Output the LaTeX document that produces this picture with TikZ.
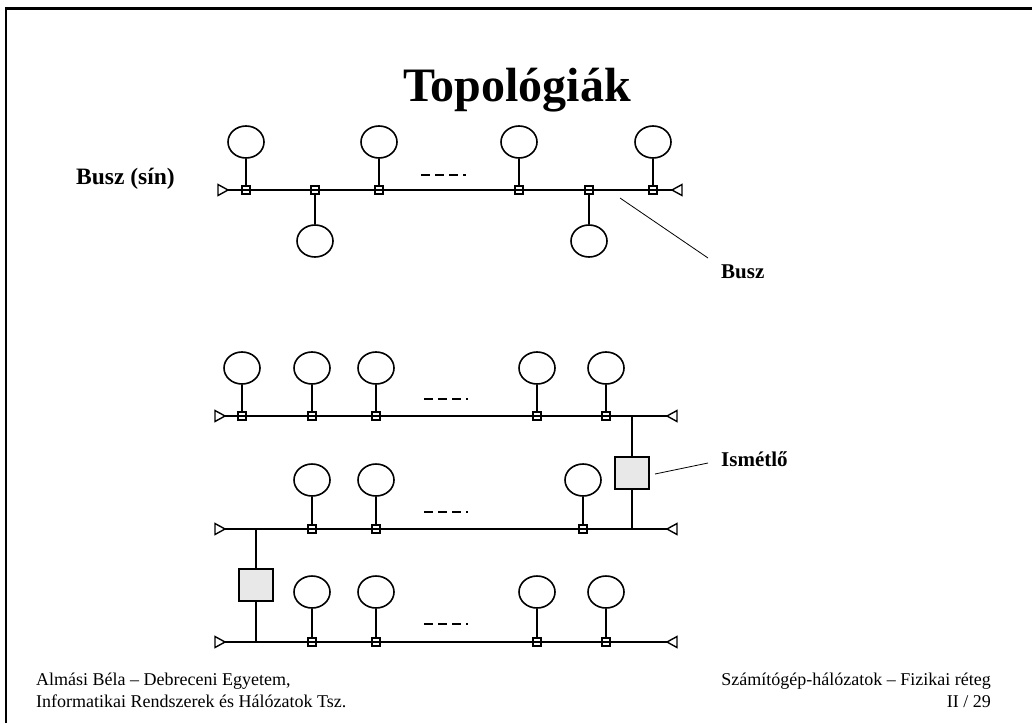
\documentclass[tikz,border=0pt]{standalone}
\usepackage{fontspec}
\setmainfont{Liberation Serif}
\usetikzlibrary{shapes.geometric}
\begin{document}
\begin{tikzpicture}[x=1pt,y=-1pt,
  station/.style={draw,ellipse,line width=1.6pt,minimum width=36pt,minimum height=32pt,inner sep=0pt},
  tap/.style={draw,rectangle,line width=1.2pt,minimum size=8pt,inner sep=0pt},
  repeater/.style={draw,rectangle,fill=black!9,line width=1.6pt,minimum width=34pt,minimum height=32pt,inner sep=0pt},
  bus/.style={line width=2.2pt},
  stem/.style={line width=1.6pt},
  term/.style={line width=1.4pt},
  more/.style={line width=1.7pt,dash pattern=on 9pt off 5pt},
  callout/.style={line width=0.8pt},
  lbl/.style={font=\bfseries\fontsize{21}{25}\selectfont,inner sep=0pt,anchor=base west},
  foot/.style={font=\fontsize{18}{22}\selectfont,inner sep=0pt}]
\useasboundingbox (0,0) rectangle (1032,723);
% frame
\draw[line width=2.6pt] (6,723) -- (6,8.5) -- (1032,8.5);

\node[font=\bfseries\fontsize{48}{56}\selectfont,inner sep=0pt,anchor=base] (title) at (517,101) {Topológiák};
\node[font=\bfseries\fontsize{23.5}{28}\selectfont,inner sep=0pt,anchor=base west] (lsin) at (76,184) {Busz (sín)};

% single bus
\coordinate (b0) at (228,190);
\coordinate (b1) at (672,190);
\draw[bus] (b0) -- (b1);
\draw[term] (b0) -- ++(-10,-5.5) -- ++(0,11) -- cycle;
\draw[term] (b1) -- ++(10,-5.5) -- ++(0,11) -- cycle;
\node[tap] (t1) at (246,190) {};
\node[tap] (t2) at (315,190) {};
\node[tap] (t3) at (379,190) {};
\node[tap] (t4) at (519,190) {};
\node[tap] (t5) at (589,190) {};
\node[tap] (t6) at (653,190) {};
\node[station] (s1) at (246,142) {};
\node[station] (s2) at (315,241) {};
\node[station] (s3) at (379,142) {};
\node[station] (s4) at (519,142) {};
\node[station] (s5) at (589,241) {};
\node[station] (s6) at (653,142) {};
\path[draw,stem] (s1) -- (t1);
\path[draw,stem] (s2) -- (t2);
\path[draw,stem] (s3) -- (t3);
\path[draw,stem] (s4) -- (t4);
\path[draw,stem] (s5) -- (t5);
\path[draw,stem] (s6) -- (t6);
\draw[more] (421,175) -- (466,175);

\coordinate (bp) at (620,198);
\coordinate (be) at (708,258);
\draw[callout] (bp) -- (be);
\node[lbl] (lbus) at (721,278) {Busz};

% three segments with repeaters
\coordinate (a0) at (225,416);
\coordinate (a1) at (667,416);
\coordinate (c0) at (225,529);
\coordinate (c1) at (667,529);
\coordinate (d0) at (225,642);
\coordinate (d1) at (667,642);
\draw[bus] (a0) -- (a1);
\draw[bus] (c0) -- (c1);
\draw[bus] (d0) -- (d1);
\draw[term] (a0) -- ++(-10,-5.5) -- ++(0,11) -- cycle;
\draw[term] (a1) -- ++(10,-5.5) -- ++(0,11) -- cycle;
\draw[term] (c0) -- ++(-10,-5.5) -- ++(0,11) -- cycle;
\draw[term] (c1) -- ++(10,-5.5) -- ++(0,11) -- cycle;
\draw[term] (d0) -- ++(-10,-5.5) -- ++(0,11) -- cycle;
\draw[term] (d1) -- ++(10,-5.5) -- ++(0,11) -- cycle;

\node[tap] (ta1) at (242,416) {};
\node[tap] (ta2) at (312,416) {};
\node[tap] (ta3) at (376,416) {};
\node[tap] (ta4) at (537,416) {};
\node[tap] (ta5) at (606,416) {};
\node[station] (sa1) at (242,368) {};
\node[station] (sa2) at (312,368) {};
\node[station] (sa3) at (376,368) {};
\node[station] (sa4) at (537,368) {};
\node[station] (sa5) at (606,368) {};
\path[draw,stem] (sa1) -- (ta1);
\path[draw,stem] (sa2) -- (ta2);
\path[draw,stem] (sa3) -- (ta3);
\path[draw,stem] (sa4) -- (ta4);
\path[draw,stem] (sa5) -- (ta5);
\draw[more] (424,399) -- (468,399);

\node[tap] (tc1) at (312,529) {};
\node[tap] (tc2) at (376,529) {};
\node[tap] (tc3) at (583,529) {};
\node[station] (sc1) at (312,480) {};
\node[station] (sc2) at (376,480) {};
\node[station] (sc3) at (583,480) {};
\path[draw,stem] (sc1) -- (tc1);
\path[draw,stem] (sc2) -- (tc2);
\path[draw,stem] (sc3) -- (tc3);
\draw[more] (424,512) -- (468,512);

\node[tap] (td1) at (312,642) {};
\node[tap] (td2) at (376,642) {};
\node[tap] (td3) at (537,642) {};
\node[tap] (td4) at (606,642) {};
\node[station] (sd1) at (312,592) {};
\node[station] (sd2) at (376,592) {};
\node[station] (sd3) at (537,592) {};
\node[station] (sd4) at (606,592) {};
\path[draw,stem] (sd1) -- (td1);
\path[draw,stem] (sd2) -- (td2);
\path[draw,stem] (sd3) -- (td3);
\path[draw,stem] (sd4) -- (td4);
\draw[more] (424,624) -- (468,624);

% repeaters
\coordinate (j1) at (632,416);
\coordinate (j2) at (632,529);
\coordinate (j3) at (256,529);
\coordinate (j4) at (256,642);
\node[repeater] (r1) at (632,473) {};
\node[repeater] (r2) at (256,585) {};
\path[draw,stem] (j1) -- (r1) -- (j2);
\path[draw,stem] (j3) -- (r2) -- (j4);

\coordinate (ip) at (655,474);
\coordinate (ie) at (708,463);
\draw[callout] (ip) -- (ie);
\node[lbl] (lrep) at (721,466) {Ismétlő};

% footer
\node[foot,anchor=base west] (fl1) at (36,685) {Almási Béla – Debreceni Egyetem,};
\node[foot,anchor=base west] (fl2) at (36,707) {Informatikai Rendszerek és Hálózatok Tsz.};
\node[foot,anchor=base east] (fr1) at (991,685) {Számítógép-hálózatok – Fizikai réteg};
\node[foot,anchor=base east] (fr2) at (991,707) {II / 29};
\end{tikzpicture}
\end{document}
